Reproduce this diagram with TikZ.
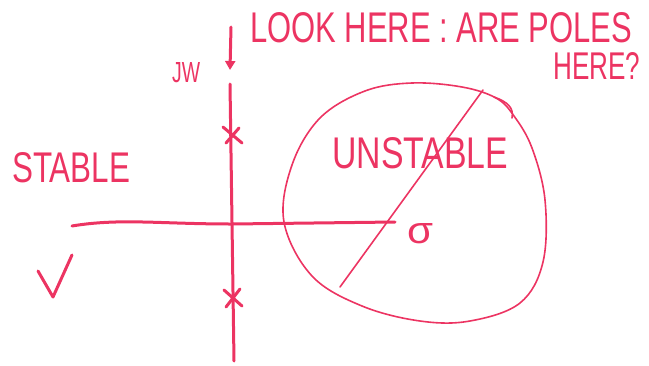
\documentclass[tikz,border=0pt]{standalone}
\usepackage{fontspec}
\setmainfont{Liberation Sans}
\usetikzlibrary{arrows.meta}
\definecolor{ink}{RGB}{236,52,98}
\begin{document}
\begin{tikzpicture}[x=1pt,y=-1pt,
  heavy/.style={draw=ink,line width=3pt,line cap=round,line join=round},
  light/.style={draw=ink,line width=1.6pt,line cap=round,line join=round},
  lbl/.style={text=ink,inner sep=0pt,anchor=north west}]
\useasboundingbox (0,0) rectangle (649,365);
% axes
\coordinate (vtop) at (230,84);
\coordinate (vbot) at (234,361);
\draw[heavy] (vtop) -- (vbot);
\coordinate (hl) at (72,226);
\coordinate (hr) at (395,222);
\draw[heavy] (hl) .. controls (120,218) and (160,224) .. (232,224) -- (hr);
% arrow
\coordinate (atop) at (231,27);
\coordinate (abot) at (230,70);
\draw[heavy,-{Triangle[length=9pt,width=10pt]}] (atop) -- (abot);
% poles
\draw[heavy] (223,127) -- (242,143) (226,143) -- (239,128);
\draw[heavy] (224,290) -- (242,306) (226,307) -- (240,289);
% circle region
\draw[light] plot[smooth cycle,tension=0.6] coordinates {(284,222) (292,165) (320,118) (365,91) (412,83) (462,87) (496,98) (514,116) (532,148) (545,200) (543,262) (520,303) (470,321) (420,321) (362,306) (312,276)};
\draw[light] (494,97) .. controls (508,102) and (514,108) .. (512,118);
% diagonal
\coordinate (d1) at (340,287);
\coordinate (d2) at (483,90);
\draw[light] (d1) -- (d2);
% checkmark
\coordinate (c1) at (38,271);
\coordinate (c2) at (53,297);
\coordinate (c3) at (72,255);
\draw[heavy] (c1) -- (c2) -- (c3);
% texts
\node[lbl] (look) at (250,12) {\resizebox{382pt}{30pt}{LOOK HERE : ARE POLES}};
\node[lbl] (here) at (553,52) {\resizebox{87pt}{27pt}{HERE?}};
\node[lbl] (jw) at (172,62) {\resizebox{28pt}{20pt}{JW}};
\node[lbl] (stable) at (12,152) {\resizebox{118pt}{30pt}{STABLE}};
\node[lbl] (unstable) at (332,137) {\resizebox{176pt}{31pt}{UNSTABLE}};
\node[text=ink,inner sep=0pt] (sigma) at (420,234) {\resizebox{26pt}{20pt}{σ}};
\end{tikzpicture}
\end{document}
